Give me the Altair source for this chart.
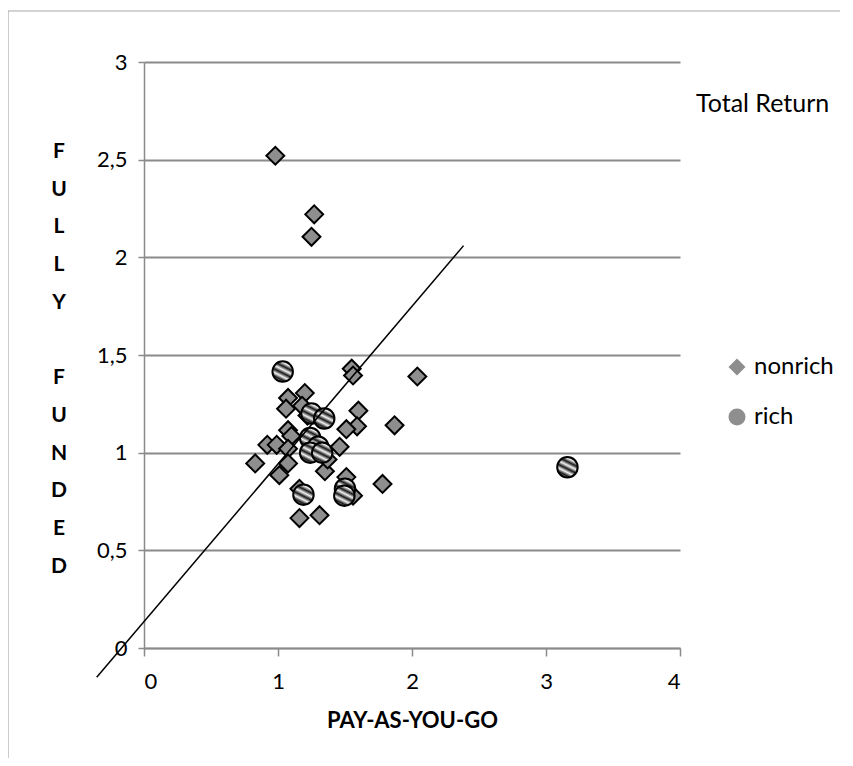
import altair as alt
import pandas as pd

# ---- data ----
nonrich_x = [0.98, 1.27, 1.25, 1.55, 1.56, 2.04, 1.075, 1.06, 1.20, 1.18, 1.60, 1.59,
             1.87, 1.51, 1.46, 1.075, 1.10, 0.92, 0.99, 1.075, 0.83, 1.075, 1.01, 1.35,
             1.37, 1.51, 1.78, 1.16, 1.56, 1.16, 1.31, 1.29, 1.22]
nonrich_y = [2.52, 2.22, 2.105, 1.43, 1.395, 1.39, 1.28, 1.225, 1.305, 1.24, 1.215, 1.135,
             1.14, 1.12, 1.03, 1.115, 1.085, 1.04, 1.04, 1.02, 0.945, 0.945, 0.885, 0.905,
             0.965, 0.875, 0.84, 0.815, 0.78, 0.665, 0.68, 1.05, 1.19]
rich_x = [1.035, 1.25, 1.345, 1.24, 1.30, 1.24, 1.33, 1.19, 1.50, 1.495, 3.16]
rich_y = [1.415, 1.20, 1.175, 1.075, 1.03, 1.00, 1.00, 0.785, 0.815, 0.78, 0.925]
trend_x = [-0.353, 2.385]
trend_y = [-0.15, 2.06]
x_ticks = [0, 1, 2, 3, 4]
y_ticks = [0, 0.5, 1, 1.5, 2, 2.5, 3]
series = ["nonrich", "rich"]
y_title_1 = ["F", "U", "L", "L", "Y"]
y_title_2 = ["F", "U", "N", "D", "E", "D"]
chart_title = "Total Return"
x_title = "PAY-AS-YOU-GO"

df = pd.DataFrame({
    "x": nonrich_x + rich_x,
    "y": nonrich_y + rich_y,
    "group": [series[0]] * len(nonrich_x) + [series[1]] * len(rich_x),
})
trend = pd.DataFrame({"x": trend_x, "y": trend_y})
one = pd.DataFrame({"a": [0]})

FONT = "Lato"
GRID = "#8a8a8a"

stripes = {
    "gradient": "linear",
    "x1": 0.75, "y1": 0.0, "x2": 0.25, "y2": 1.0,
    "stops": [
        {"offset": 0.0, "color": "#1a1a1a"},
        {"offset": 0.14, "color": "#f2f2f2"},
        {"offset": 0.28, "color": "#1a1a1a"},
        {"offset": 0.42, "color": "#f2f2f2"},
        {"offset": 0.56, "color": "#1a1a1a"},
        {"offset": 0.70, "color": "#f2f2f2"},
        {"offset": 0.84, "color": "#1a1a1a"},
        {"offset": 1.0, "color": "#f2f2f2"},
    ],
}

xenc = alt.X("x:Q",
             scale=alt.Scale(domain=[0, 4], nice=False, zero=False),
             axis=alt.Axis(values=x_ticks, grid=False, title=x_title, format="d",
                           titleFont=FONT, titleFontSize=22, titleFontWeight="bold",
                           titleColor="black", titlePadding=18,
                           labelFont=FONT, labelFontSize=22, labelColor="black",
                           labelPadding=15, tickSize=8, tickColor=GRID, tickWidth=1.5,
                           domainColor=GRID, domainWidth=1.5))
yenc = alt.Y("y:Q",
             scale=alt.Scale(domain=[0, 3], nice=False, zero=False),
             axis=alt.Axis(values=y_ticks, grid=True, gridColor=GRID, gridWidth=1.8,
                           labelExpr="replace(toString(datum.value), '.', ',')",
                           labelFont=FONT, labelFontSize=22, labelColor="black",
                           labelPadding=11, tickSize=6, tickColor=GRID, tickWidth=1.5,
                           domainColor=GRID, domainWidth=1.5, title=None))
shape = alt.Shape("group:N",
                  scale=alt.Scale(domain=series, range=["diamond", "circle"]),
                  legend=alt.Legend(orient="none", legendX=581, legendY=293, title=None,
                                    labelFont=FONT, labelFontSize=24, labelColor="black",
                                    labelOffset=5, symbolSize=290,
                                    symbolFillColor="#8e8e8e", symbolStrokeColor="black",
                                    symbolStrokeWidth=2, rowPadding=24, padding=0))

base = alt.Chart(df)
nonrich_layer = base.transform_filter(alt.datum.group == series[0]).mark_point(
    filled=True, fill="#8e8e8e", stroke="black", strokeWidth=2, size=320,
    opacity=1, fillOpacity=1, strokeOpacity=1
).encode(x=xenc, y=yenc, shape=shape)

rich_layer = base.transform_filter(alt.datum.group == series[1]).mark_point(
    filled=True, fill=stripes, stroke="black", strokeWidth=2, size=420,
    opacity=1, fillOpacity=1, strokeOpacity=1
).encode(x=xenc, y=yenc, shape=shape)

line_layer = alt.Chart(trend).mark_line(color="black", strokeWidth=1.5, clip=False).encode(
    x="x:Q", y="y:Q")

frame_left = alt.Chart(one).mark_rule(color="#a8a8a8", strokeWidth=1.2).encode(
    x=alt.value(-136), y=alt.value(-51), y2=alt.value(720))
frame_top = alt.Chart(one).mark_rule(color="#a8a8a8", strokeWidth=1.2).encode(
    x=alt.value(-136), x2=alt.value(720), y=alt.value(-51))

title_layer = alt.Chart(one).mark_text(
    text=chart_title, font=FONT, fontSize=25, color="black", align="left", baseline="middle"
).encode(x=alt.value(552), y=alt.value(42))

ytitle_a = alt.Chart(one).mark_text(
    text=y_title_1, font=FONT, fontSize=21, fontWeight="bold", color="black",
    align="center", baseline="top", lineHeight=37.7
).encode(x=alt.value(-85), y=alt.value(79))
ytitle_b = alt.Chart(one).mark_text(
    text=y_title_2, font=FONT, fontSize=21, fontWeight="bold", color="black",
    align="center", baseline="top", lineHeight=37.7
).encode(x=alt.value(-85), y=alt.value(79 + 6 * 37.7))

chart = alt.layer(frame_left, frame_top, nonrich_layer, rich_layer, line_layer,
                  title_layer, ytitle_a, ytitle_b).properties(
    width=536, height=586,
    padding={"left": 136, "top": 54, "right": 160, "bottom": 110},
    autosize="none",
).configure_view(stroke=None)

chart.save("out.html", embed_options={"renderer": "svg", "actions": False})
